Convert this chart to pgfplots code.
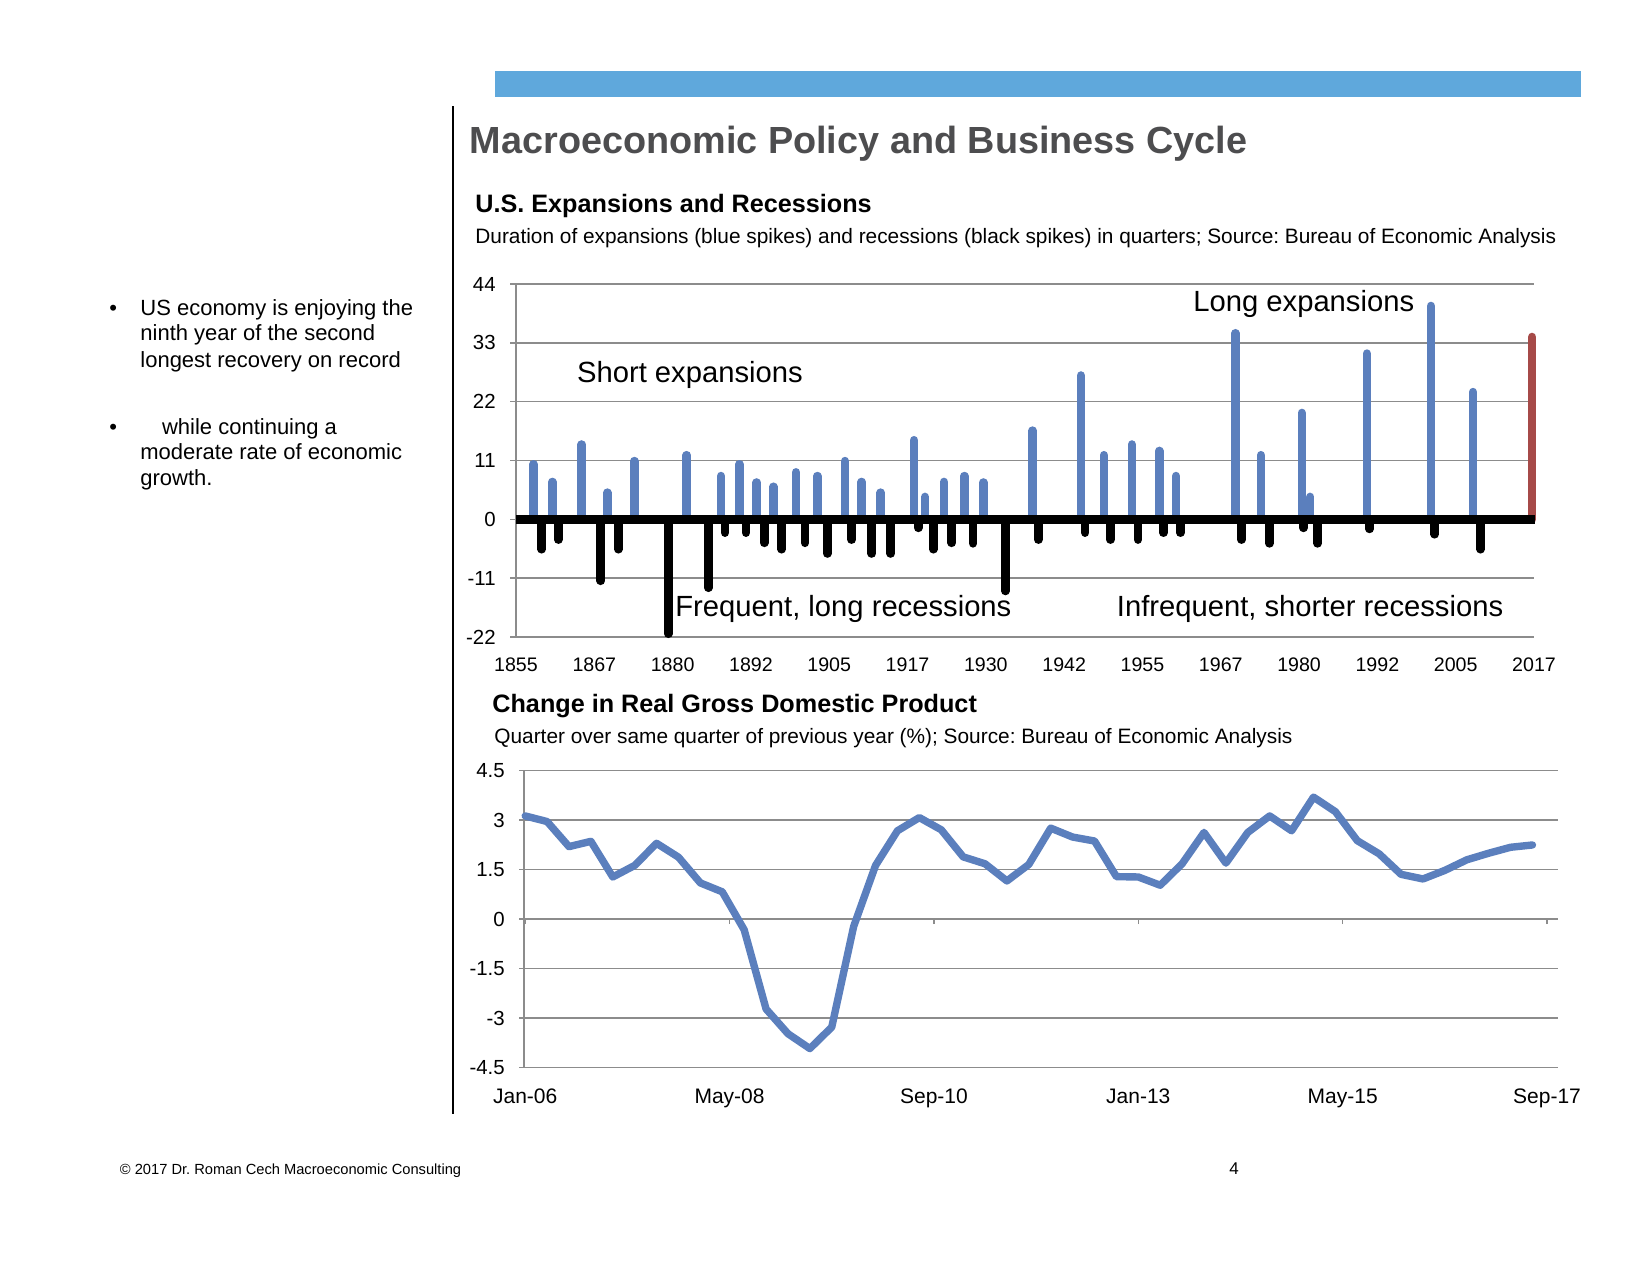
\documentclass[border=0pt]{standalone}
\usepackage{fontspec}
\setmainfont{Liberation Sans}
\usepackage{pgfplots}
\pgfplotsset{compat=1.18}
\frenchspacing

\definecolor{spikeblue}{HTML}{5B7FBD}
\definecolor{spikered}{HTML}{A64A48}
\definecolor{barblue}{HTML}{5FA8DC}
\definecolor{titlegray}{HTML}{4D4D4F}
\definecolor{gridgray}{HTML}{8C8C8C}

% expansions (blue spikes), year of peak and length in quarters
\pgfplotstableread{
year dur
1857.75 10.3
1860.78 7.0
1865.46 14.0
1869.53 5.0
1873.83 10.9
1882.17 12.0
1887.62 8.1
1890.54 10.3
1893.30 6.9
1895.95 6.1
1899.56 8.8
1902.95 8.1
1907.36 10.9
1910.01 7.0
1913.04 5.0
1918.34 14.8
1920.09 4.2
1923.11 7.0
1926.34 8.1
1929.37 6.9
1937.21 16.6
1944.88 26.9
1948.56 12.0
1952.99 14.0
1957.37 12.8
1960.03 8.1
1969.49 34.8
1973.54 12.0
1980.04 19.9
1981.39 4.2
1990.41 31.0
2000.60 39.9
2007.30 23.8
}\expansions

% recessions (black spikes)
\pgfplotstableread{
year dur
1859.09 -5.6
1861.73 -3.8
1868.48 -11.5
1871.28 -5.6
1879.24 -21.4
1885.60 -12.8
1888.26 -2.5
1891.60 -2.5
1894.51 -4.4
1897.28 -5.6
1900.99 -4.4
1904.54 -6.4
1908.42 -3.8
1911.61 -6.4
1914.63 -6.4
1919.02 -1.6
1921.41 -5.6
1924.34 -4.4
1927.74 -4.5
1932.88 -13.4
1938.12 -3.8
1945.58 -2.5
1949.59 -3.8
1953.97 -3.8
1958.03 -2.5
1960.73 -2.5
1970.46 -3.8
1974.90 -4.5
1980.31 -1.6
1982.57 -4.5
1990.84 -1.8
2001.20 -2.8
2008.50 -5.6
}\recessions

% real GDP, % change on the same quarter a year before (months since Jan-06)
\pgfplotstableread{
m gdp
0 3.13
3 2.96
6 2.20
9 2.36
12 1.28
15 1.63
18 2.30
21 1.88
24 1.10
27 0.83
30 -0.32
33 -2.72
36 -3.47
39 -3.92
42 -3.27
45 -0.22
48 1.63
51 2.68
54 3.08
57 2.71
60 1.89
63 1.68
66 1.16
69 1.66
72 2.76
75 2.49
78 2.37
81 1.29
84 1.28
87 1.03
90 1.68
93 2.63
96 1.70
99 2.63
102 3.13
105 2.68
108 3.70
111 3.26
114 2.38
117 1.98
120 1.36
123 1.22
126 1.48
129 1.80
132 2.00
135 2.18
138 2.25
}\gdp

\begin{document}
\begin{tikzpicture}
\useasboundingbox (0,0) rectangle (825pt,-637.5pt);

% slide furniture, coordinates in pixels of the 1650x1275 page
\begin{scope}[x=0.5pt,y=-0.5pt]
  \fill[barblue] (495,70.7) rectangle (1581,96.7);
  \draw[black, line width=0.7pt] (453,106) -- (453,1114);
  \node[anchor=base west, inner sep=0, text=titlegray, font=\fontsize{18.9}{22}\selectfont\bfseries]
    at (469.5,153.7) {Macroeconomic Policy and Business Cycle};
  \node[anchor=base west, inner sep=0, font=\fontsize{12.6}{15}\selectfont\bfseries]
    at (475,212.3) {U.S. Expansions and Recessions};
  \node[anchor=base west, inner sep=0, font=\fontsize{10.42}{12}\selectfont]
    at (475,243.3) {Duration of expansions (blue spikes) and recessions (black spikes) in quarters; Source: Bureau of Economic Analysis};
  \node[anchor=base west, inner sep=0, font=\fontsize{12.6}{15}\selectfont\bfseries]
    at (492,712.7) {Change in Real Gross Domestic Product};
  \node[anchor=base west, inner sep=0, font=\fontsize{10.42}{12}\selectfont]
    at (494,743.5) {Quarter over same quarter of previous year (\%); Source: Bureau of Economic Analysis};

  % left bullets
  \begin{scope}[every node/.style={inner sep=0, font=\fontsize{11}{13}\selectfont}]
    \node[anchor=base] at (113.3,315) {•};
    \node[anchor=base west] at (140,315) {US economy is enjoying the};
    \node[anchor=base west] at (140,340.7) {ninth year of the second};
    \node[anchor=base west] at (140,367.3) {longest recovery on record};
    \node[anchor=base] at (113.3,434) {•};
    \node[anchor=base west] at (161.7,434) {while continuing a};
    \node[anchor=base west] at (140,459.3) {moderate rate of economic};
    \node[anchor=base west] at (140,485) {growth.};
  \end{scope}

  % footer
  \node[anchor=base west, inner sep=0, font=\fontsize{7.34}{9}\selectfont]
    at (119.5,1174) {© 2017 Dr. Roman Cech Macroeconomic Consulting};
  \node[anchor=base, inner sep=0, font=\fontsize{8.5}{10}\selectfont]
    at (1234,1174) {4};
\end{scope}

% U.S. expansions and recessions
\begin{axis}[
  at={(258pt,-318.5pt)}, anchor=south west, scale only axis,
  width=509pt, height=176.5pt,
  xmin=1855, xmax=2017, ymin=-22, ymax=44,
  clip=false,
  axis x line*=bottom, axis y line*=left,
  axis line style={gridgray, line width=0.75pt, -},
  ymajorgrids, grid style={gridgray, line width=0.75pt},
  ytick={-22,-11,0,11,22,33,44},
  yticklabels={-22,-11,0,11,22,33,44},
  xtick={1855,1867.4615,1879.9231,1892.3846,1904.8462,1917.3077,1929.7692,
         1942.2308,1954.6923,1967.1538,1979.6154,1992.0769,2004.5385,2017},
  xticklabels={1855,1867,1880,1892,1905,1917,1930,1942,1955,1967,1980,1992,2005,2017},
  x tick style={draw=none},
  y tick style={gridgray, line width=0.75pt},
  tick align=outside, major tick length=3pt,
  yticklabel style={font=\fontsize{10.2}{12}\selectfont, anchor=east, inner sep=0pt, xshift=-7pt},
  xticklabel style={font=\fontsize{9.8}{12}\selectfont, anchor=base, inner sep=0pt, yshift=-14.2pt},
]
\addplot[ycomb, spikeblue, line width=4.25pt, line cap=round, mark=none] table[x=year, y=dur] {\expansions};
\addplot[ycomb, black, line width=4.25pt, line cap=round, mark=none] table[x=year, y=dur] {\recessions};
\addplot[ycomb, spikered, line width=4.25pt, line cap=round, mark=none] coordinates {(2016.7,34.1)};
\addplot[black, line width=4.5pt, mark=none] coordinates {(1855,0) (2017.2,0)};
\end{axis}

\begin{scope}[x=0.5pt,y=-0.5pt, every node/.style={anchor=base west, inner sep=0, font=\fontsize{14.6}{17}\selectfont}]
  \node at (576.7,382.7) {Short expansions};
  \node at (1193,311.7) {Long expansions};
  \node at (675,616) {Frequent, long recessions};
  \node at (1116.5,616) {Infrequent, shorter recessions};
\end{scope}

% change in real GDP
\begin{axis}[
  at={(262.05pt,-533.85pt)}, anchor=south west, scale only axis,
  width=516.95pt, height=148.5pt,
  xmin=-0.15, xmax=141.5, ymin=-4.5, ymax=4.5,
  clip=false,
  axis x line=middle, axis y line*=left,
  axis line style={gridgray, line width=0.75pt, -},
  ymajorgrids, grid style={gridgray, line width=0.75pt},
  ytick={-4.5,-3,-1.5,0,1.5,3,4.5},
  yticklabels={-4.5,-3,-1.5,0,1.5,3,4.5},
  xtick={0,28,56,84,112,140},
  xticklabels={Jan-06,May-08,Sep-10,Jan-13,May-15,Sep-17},
  tick style={gridgray, line width=0.75pt},
  tick align=outside, major tick length=2.5pt,
  yticklabel style={font=\fontsize{10.2}{12}\selectfont, anchor=east, inner sep=0pt, xshift=-7pt},
  xticklabel style={font=\fontsize{10.5}{12}\selectfont, anchor=base, inner sep=0pt, yshift=-89.8pt},
]
\addplot[spikeblue, line width=3.7pt, line join=round, line cap=round, mark=none] table[x=m, y=gdp] {\gdp};
\end{axis}
\end{tikzpicture}
\end{document}
